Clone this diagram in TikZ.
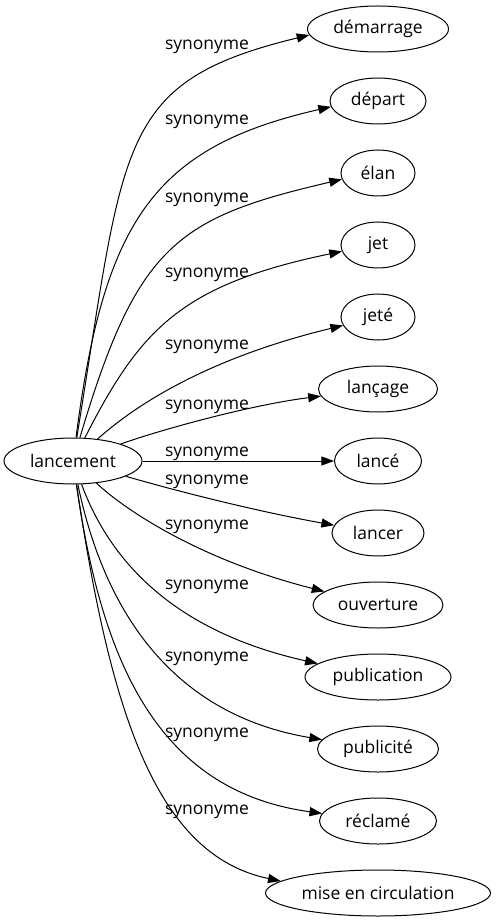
\documentclass[tikz,border=0pt]{standalone}
\usepackage{fontspec}
\setmainfont{Open Sans}
\usetikzlibrary{arrows.meta,shapes.geometric}
\begin{document}
\begin{tikzpicture}[x=0.75pt,y=-0.75pt,
  word/.style={draw,ellipse,inner sep=0pt,minimum height=34.5pt,line width=0.75pt,
    font=\fontsize{13.1pt}{15pt}\selectfont},
  lab/.style={inner sep=0pt,anchor=base,font=\fontsize{13.1pt}{15pt}\selectfont},
  edge/.style={line width=0.75pt,-{Triangle[length=9.5pt,width=6.8pt]}}]
\useasboundingbox (0,0) rectangle (496,923);
\node[word,minimum width=103.5pt] (L) at (73,461) {lancement};
\node[word,minimum width=105.75pt] (n1) at (378,29) {démarrage};
\node[word,minimum width=72pt] (n2) at (378,101) {départ};
\node[word,minimum width=55.5pt] (n3) at (378,173) {élan};
\node[word,minimum width=55.5pt] (n4) at (378,245) {jet};
\node[word,minimum width=55.5pt] (n5) at (378,317) {jeté};
\node[word,minimum width=89.25pt] (n6) at (378,389) {lançage};
\node[word,minimum width=65.25pt] (n7) at (378,461) {lancé};
\node[word,minimum width=69pt] (n8) at (378,533) {lancer};
\node[word,minimum width=97.5pt] (n9) at (378,605) {ouverture};
\node[word,minimum width=109.5pt] (n10) at (378,677) {publication};
\node[word,minimum width=90.75pt] (n11) at (378,749) {publicité};
\node[word,minimum width=87.75pt] (n12) at (378,821) {réclamé};
\node[word,minimum width=168.75pt] (n13) at (378,893) {mise en circulation};
\foreach \i/\y in {1/49.5,2/124.5,3/202.5,4/277.5,5/349.5,6/409.5,7/456.5,8/484,9/529.5,10/589.5,11/661.5,12/737.5,13/814.5}
  \node[lab] (s\i) at (207,\y) {synonyme};
% upper edges
\draw[edge] (L) .. controls (125,141) and (116,82) .. (n1.185);
\draw[edge] (L) .. controls (104,220) and (154.5,147) .. (n2.187);
\draw[edge] (L) .. controls (137,245) and (177,217.7) .. (n3.190);
\draw[edge] (L) .. controls (140,330) and (180,285) .. (n4.190);
\draw[edge] (L) .. controls (130,410) and (200,360) .. (n5);
\draw[edge] (L) .. controls (160,430) and (250,405) .. (n6);
% middle
\draw[edge] (L) -- (n7);
% lower edges
\draw[edge] (L) .. controls (180,492) and (260,512) .. (n8);
\draw[edge] (L) .. controls (125,510) and (200,560) .. (n9);
\draw[edge] (L) .. controls (115,575) and (190,635) .. (n10);
\draw[edge] (L) .. controls (105,615) and (175,715) .. (n11);
\draw[edge] (L) .. controls (100,648) and (150,790) .. (n12);
\draw[edge] (L) .. controls (110,710) and (155,855) .. (n13.173);
\end{tikzpicture}
\end{document}
